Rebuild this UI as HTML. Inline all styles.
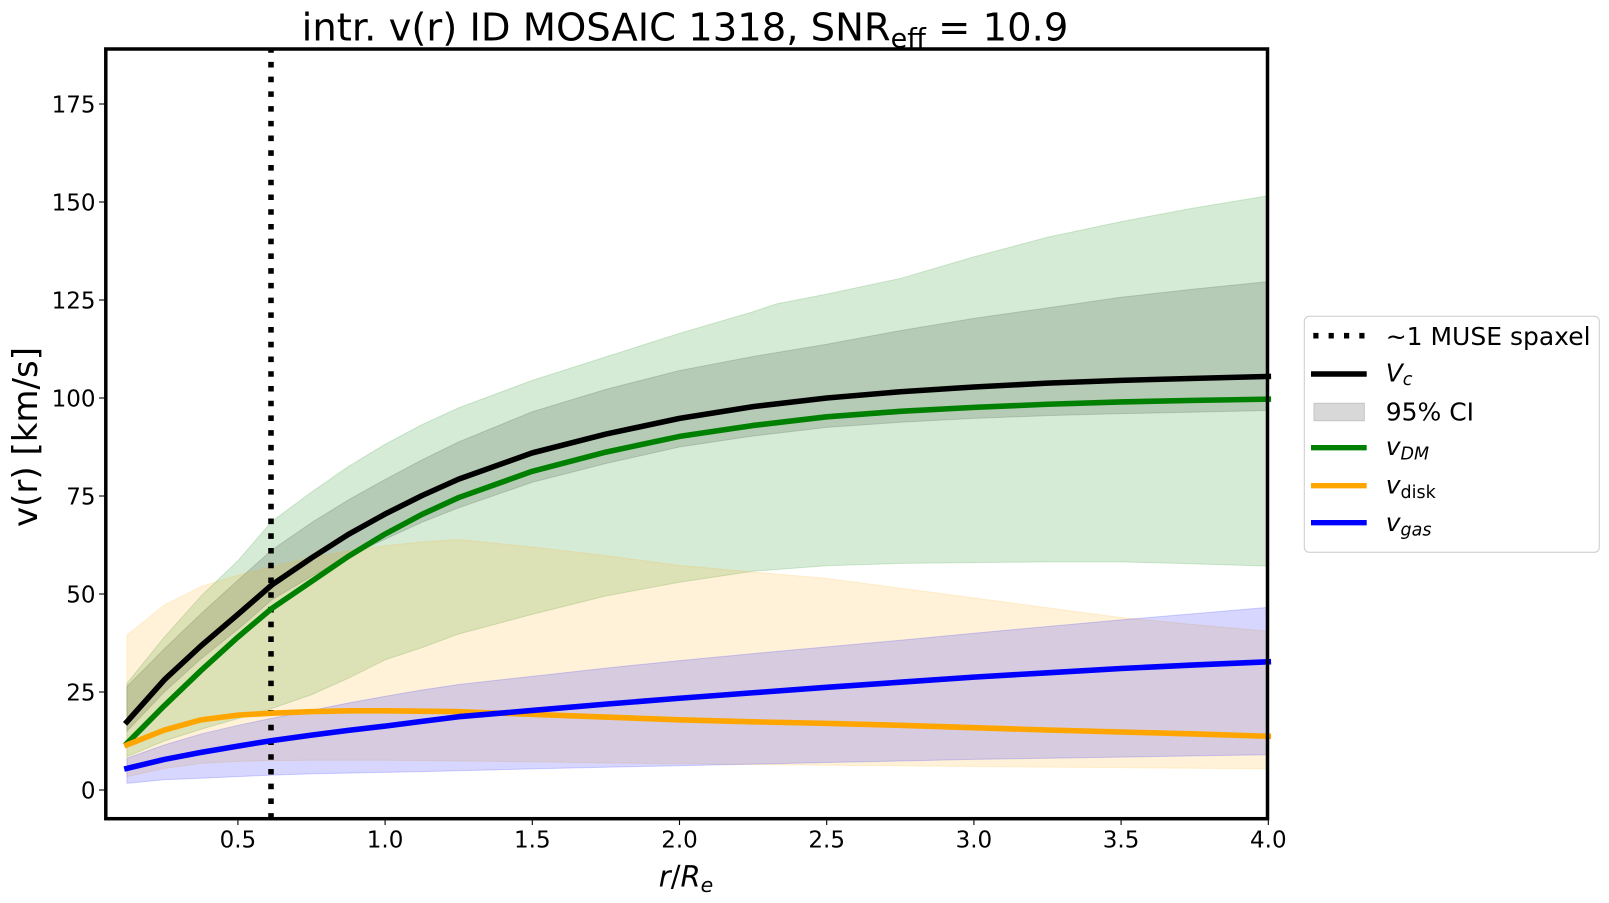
<!DOCTYPE html>
<html>
<head>
<meta charset="utf-8">
<style>
html,body{margin:0;padding:0;background:#fff;}
svg{display:block;}
text{font-family:"DejaVu Sans","Liberation Sans",sans-serif;fill:#000;}
</style>
</head>
<body>
<svg width="1609" height="903" viewBox="0 0 1609 903" xmlns="http://www.w3.org/2000/svg">
<rect x="0" y="0" width="1609" height="903" fill="#fff"/>

<!-- data group: x_px = 90.7 + 294.4*x ; y_px = 790 - 3.92*y -->
<g transform="matrix(294.4,0,0,-3.92,90.7,790)">
  <!-- Vc 95% CI (grey) -->
  <polygon vector-effect="non-scaling-stroke" fill="#808080" fill-opacity="0.3" stroke="#808080" stroke-opacity="0.3" stroke-width="1"
    points="0.123,26.4 0.25,36 0.375,45 0.5,53.5 0.615,61.2 0.75,68.2 0.875,74 1,79.2 1.125,84.2 1.25,88.8 1.5,96.5 1.75,102.2 2,107 2.25,110.6 2.5,113.7 2.75,117.2 3,120.3 3.25,123 3.5,125.7 3.75,127.8 4,129.7
            4,96.8 3.75,96.4 3.5,96 3.25,95.5 3,94.8 2.75,93.8 2.5,92.5 2.25,90.3 2,87.5 1.75,83.3 1.5,78.5 1.25,72 1.125,68.3 1,64 0.875,59.5 0.75,54.5 0.615,48.5 0.5,41 0.375,33.5 0.25,25 0.123,15"/>
  <!-- DM band (green) -->
  <polygon vector-effect="non-scaling-stroke" fill="#008000" fill-opacity="0.16" stroke="#008000" stroke-opacity="0.16" stroke-width="1"
    points="0.123,27.2 0.25,39 0.375,49.5 0.5,58.5 0.615,68.5 0.75,76 0.875,82.5 1,88.2 1.125,93.2 1.25,97.5 1.5,104.5 1.75,110.5 2,116.5 2.25,122 2.33,124 2.5,126.5 2.75,130.5 3,136 3.25,141 3.5,145 3.75,148.5 4,151.6
            4,57.1 3.75,57.7 3.5,58.2 3.25,58.2 3,58 2.75,57.8 2.5,57.2 2.25,55.8 2,53 1.75,49.5 1.5,44.8 1.25,39.8 1.125,36.3 1,33.2 0.875,28.5 0.75,24.3 0.615,20.8 0.5,18.2 0.375,15.5 0.25,12.5 0.123,8.5"/>
  <!-- disk band (orange) -->
  <polygon vector-effect="non-scaling-stroke" fill="#FFA500" fill-opacity="0.15" stroke="#FFA500" stroke-opacity="0.15" stroke-width="1"
    points="0.123,39.5 0.25,47.2 0.375,51.9 0.5,54.8 0.615,57 0.75,59.3 0.875,61 1,62.3 1.125,63.3 1.25,63.9 1.5,62 1.75,59.8 2,57.3 2.25,55.6 2.5,54 2.75,51.5 3,49 3.25,46.5 3.5,44 3.75,42.2 4,40.5
            4,5.4 3.75,5.55 3.5,5.7 3.25,5.85 3,6 2.75,6.15 2.5,6.3 2.25,6.5 2,6.7 1.75,6.9 1.5,7.2 1.25,7.4 1.125,7.5 1,7.6 0.875,7.6 0.75,7.6 0.615,7.5 0.5,7.3 0.375,6.8 0.25,5.5 0.123,3.4"/>
  <!-- gas band (blue) -->
  <polygon vector-effect="non-scaling-stroke" fill="#0000FF" fill-opacity="0.16" stroke="#0000FF" stroke-opacity="0.16" stroke-width="1"
    points="0.123,8.1 0.25,11.5 0.375,14.3 0.5,16.5 0.615,18.3 0.75,20.3 0.875,22.2 1,23.9 1.125,25.5 1.25,26.9 1.5,29 1.75,31.1 2,33 2.25,34.8 2.5,36.5 2.75,38.2 3,40 3.25,41.7 3.5,43.4 3.75,45 4,46.6
            4,9 3.75,8.7 3.5,8.4 3.25,8.1 3,7.8 2.75,7.4 2.5,7 2.25,6.6 2,6.2 1.75,5.8 1.5,5.4 1.25,4.9 1.125,4.7 1,4.5 0.875,4.3 0.75,4.1 0.615,3.8 0.5,3.4 0.375,3 0.25,2.6 0.123,1.7"/>
</g>

<!-- dotted MUSE spaxel line (drawn bottom->top) -->
<line x1="271" y1="818.7" x2="271" y2="49" stroke="#000" stroke-width="5.56" stroke-dasharray="5.56 9.17"/>

<g transform="matrix(294.4,0,0,-3.92,90.7,790)" fill="none" stroke-linejoin="round" stroke-linecap="square">
  <polyline vector-effect="non-scaling-stroke" stroke="#000" stroke-width="5.56"
    points="0.123,17.4 0.25,28.1 0.375,36.8 0.5,44.8 0.615,52.3 0.75,59.2 0.875,65.2 1,70.4 1.125,75.1 1.25,79.3 1.5,86 1.75,90.8 2,94.8 2.25,97.8 2.5,100 2.75,101.6 3,102.8 3.25,103.8 3.5,104.5 3.75,105 4,105.5"/>
  <polyline vector-effect="non-scaling-stroke" stroke="#008000" stroke-width="5.56"
    points="0.123,11.9 0.25,21.5 0.375,30.5 0.5,39 0.615,46.3 0.75,53.2 0.875,59.6 1,65.3 1.125,70.3 1.25,74.6 1.5,81.3 1.75,86.2 2,90.2 2.25,93 2.5,95.2 2.75,96.6 3,97.6 3.25,98.4 3.5,99 3.75,99.4 4,99.7"/>
  <polyline vector-effect="non-scaling-stroke" stroke="#FFA500" stroke-width="5.56"
    points="0.123,11.5 0.25,15.3 0.375,17.9 0.5,19.1 0.615,19.6 0.75,20 0.875,20.2 1,20.2 1.125,20.1 1.25,20 1.5,19.3 1.75,18.6 2,17.9 2.25,17.4 2.5,17 2.75,16.5 3,15.9 3.25,15.3 3.5,14.8 3.75,14.3 4,13.7"/>
  <polyline vector-effect="non-scaling-stroke" stroke="#0000FF" stroke-width="5.56"
    points="0.123,5.5 0.25,7.8 0.375,9.6 0.5,11.2 0.615,12.6 0.75,14 0.875,15.2 1,16.3 1.125,17.5 1.25,18.7 1.5,20.3 1.75,21.9 2,23.4 2.25,24.8 2.5,26.2 2.75,27.5 3,28.8 3.25,29.9 3.5,31 3.75,31.9 4,32.7"/>
</g>

<!-- spines -->
<rect x="105.8" y="49" width="1161.7" height="769.7" fill="none" stroke="#000" stroke-width="3.5"/>

<!-- y ticks -->
<g stroke="#000" stroke-width="1.1">
  <line x1="104" y1="790" x2="99" y2="790"/>
  <line x1="104" y1="692" x2="99" y2="692"/>
  <line x1="104" y1="594" x2="99" y2="594"/>
  <line x1="104" y1="496" x2="99" y2="496"/>
  <line x1="104" y1="398" x2="99" y2="398"/>
  <line x1="104" y1="300" x2="99" y2="300"/>
  <line x1="104" y1="202" x2="99" y2="202"/>
  <line x1="104" y1="104" x2="99" y2="104"/>
</g>
<g font-size="23" text-anchor="end">
  <text x="95.5" y="798.4">0</text>
  <text x="95.5" y="700.4">25</text>
  <text x="95.5" y="602.4">50</text>
  <text x="95.5" y="504.4">75</text>
  <text x="95.5" y="406.4">100</text>
  <text x="95.5" y="308.4">125</text>
  <text x="95.5" y="210.4">150</text>
  <text x="95.5" y="112.4">175</text>
</g>

<!-- x ticks -->
<g stroke="#000" stroke-width="1.1">
  <line x1="237.9" y1="820.5" x2="237.9" y2="825"/>
  <line x1="385.1" y1="820.5" x2="385.1" y2="825"/>
  <line x1="532.3" y1="820.5" x2="532.3" y2="825"/>
  <line x1="679.5" y1="820.5" x2="679.5" y2="825"/>
  <line x1="826.7" y1="820.5" x2="826.7" y2="825"/>
  <line x1="973.9" y1="820.5" x2="973.9" y2="825"/>
  <line x1="1121.1" y1="820.5" x2="1121.1" y2="825"/>
  <line x1="1268.3" y1="820.5" x2="1268.3" y2="825"/>
</g>
<g font-size="23" text-anchor="middle">
  <text x="237.9" y="847.5">0.5</text>
  <text x="385.1" y="847.5">1.0</text>
  <text x="532.3" y="847.5">1.5</text>
  <text x="679.5" y="847.5">2.0</text>
  <text x="826.7" y="847.5">2.5</text>
  <text x="973.9" y="847.5">3.0</text>
  <text x="1121.1" y="847.5">3.5</text>
  <text x="1268.3" y="847.5">4.0</text>
</g>

<!-- axis labels -->
<text x="686" y="886.5" font-size="29" text-anchor="middle"><tspan font-style="italic">r</tspan>/<tspan font-style="italic">R</tspan><tspan font-style="italic" font-size="20.5" dy="5.5">e</tspan></text>
<text transform="translate(37.2,437) rotate(-90)" font-size="34" text-anchor="middle">v(r) [km/s]</text>

<!-- title -->
<text x="685" y="40.7" font-size="38.5" text-anchor="middle">intr. v(r) ID MOSAIC 1318, SNR<tspan font-size="27" dy="7">eff</tspan><tspan dy="-7"> = 10.9</tspan></text>

<!-- legend -->
<rect x="1304.3" y="316.3" width="295" height="236" rx="5" ry="5" fill="#fff" fill-opacity="0.8" stroke="#cccccc" stroke-width="1"/>
<g fill="#000">
  <rect x="1313.3" y="332.9" width="5.2" height="5.6"/>
  <rect x="1328.6" y="332.9" width="5.2" height="5.6"/>
  <rect x="1344" y="332.9" width="5.2" height="5.6"/>
  <rect x="1359.3" y="332.9" width="5.2" height="5.6"/>
</g>
<line x1="1311" y1="374" x2="1366.7" y2="374" stroke="#000" stroke-width="5.6"/>
<rect x="1314" y="403.3" width="50.3" height="17.4" fill="#d8d8d8" stroke="#c4c4c4" stroke-width="1"/>
<line x1="1311" y1="447.7" x2="1366.7" y2="447.7" stroke="#008000" stroke-width="5.4"/>
<line x1="1311" y1="485.7" x2="1366.7" y2="485.7" stroke="#FFA500" stroke-width="5.4"/>
<line x1="1311" y1="522.7" x2="1366.7" y2="522.7" stroke="#0000FF" stroke-width="5.4"/>
<g font-size="25">
  <text x="1385.7" y="345">~1 MUSE spaxel</text>
  <text x="1385.7" y="381.7"><tspan font-style="italic">V</tspan><tspan font-style="italic" font-size="17.5" dy="3.5">c</tspan></text>
  <text x="1385.7" y="420.7">95% CI</text>
  <text x="1385.7" y="455"><tspan font-style="italic">v</tspan><tspan font-style="italic" font-size="17.5" dy="4.5">DM</tspan></text>
  <text x="1385.7" y="493.3"><tspan font-style="italic">v</tspan><tspan font-size="17.5" dy="4.5">disk</tspan></text>
  <text x="1385.7" y="531"><tspan font-style="italic">v</tspan><tspan font-style="italic" font-size="17.5" dy="4.5">gas</tspan></text>
</g>
</svg>
</body>
</html>
